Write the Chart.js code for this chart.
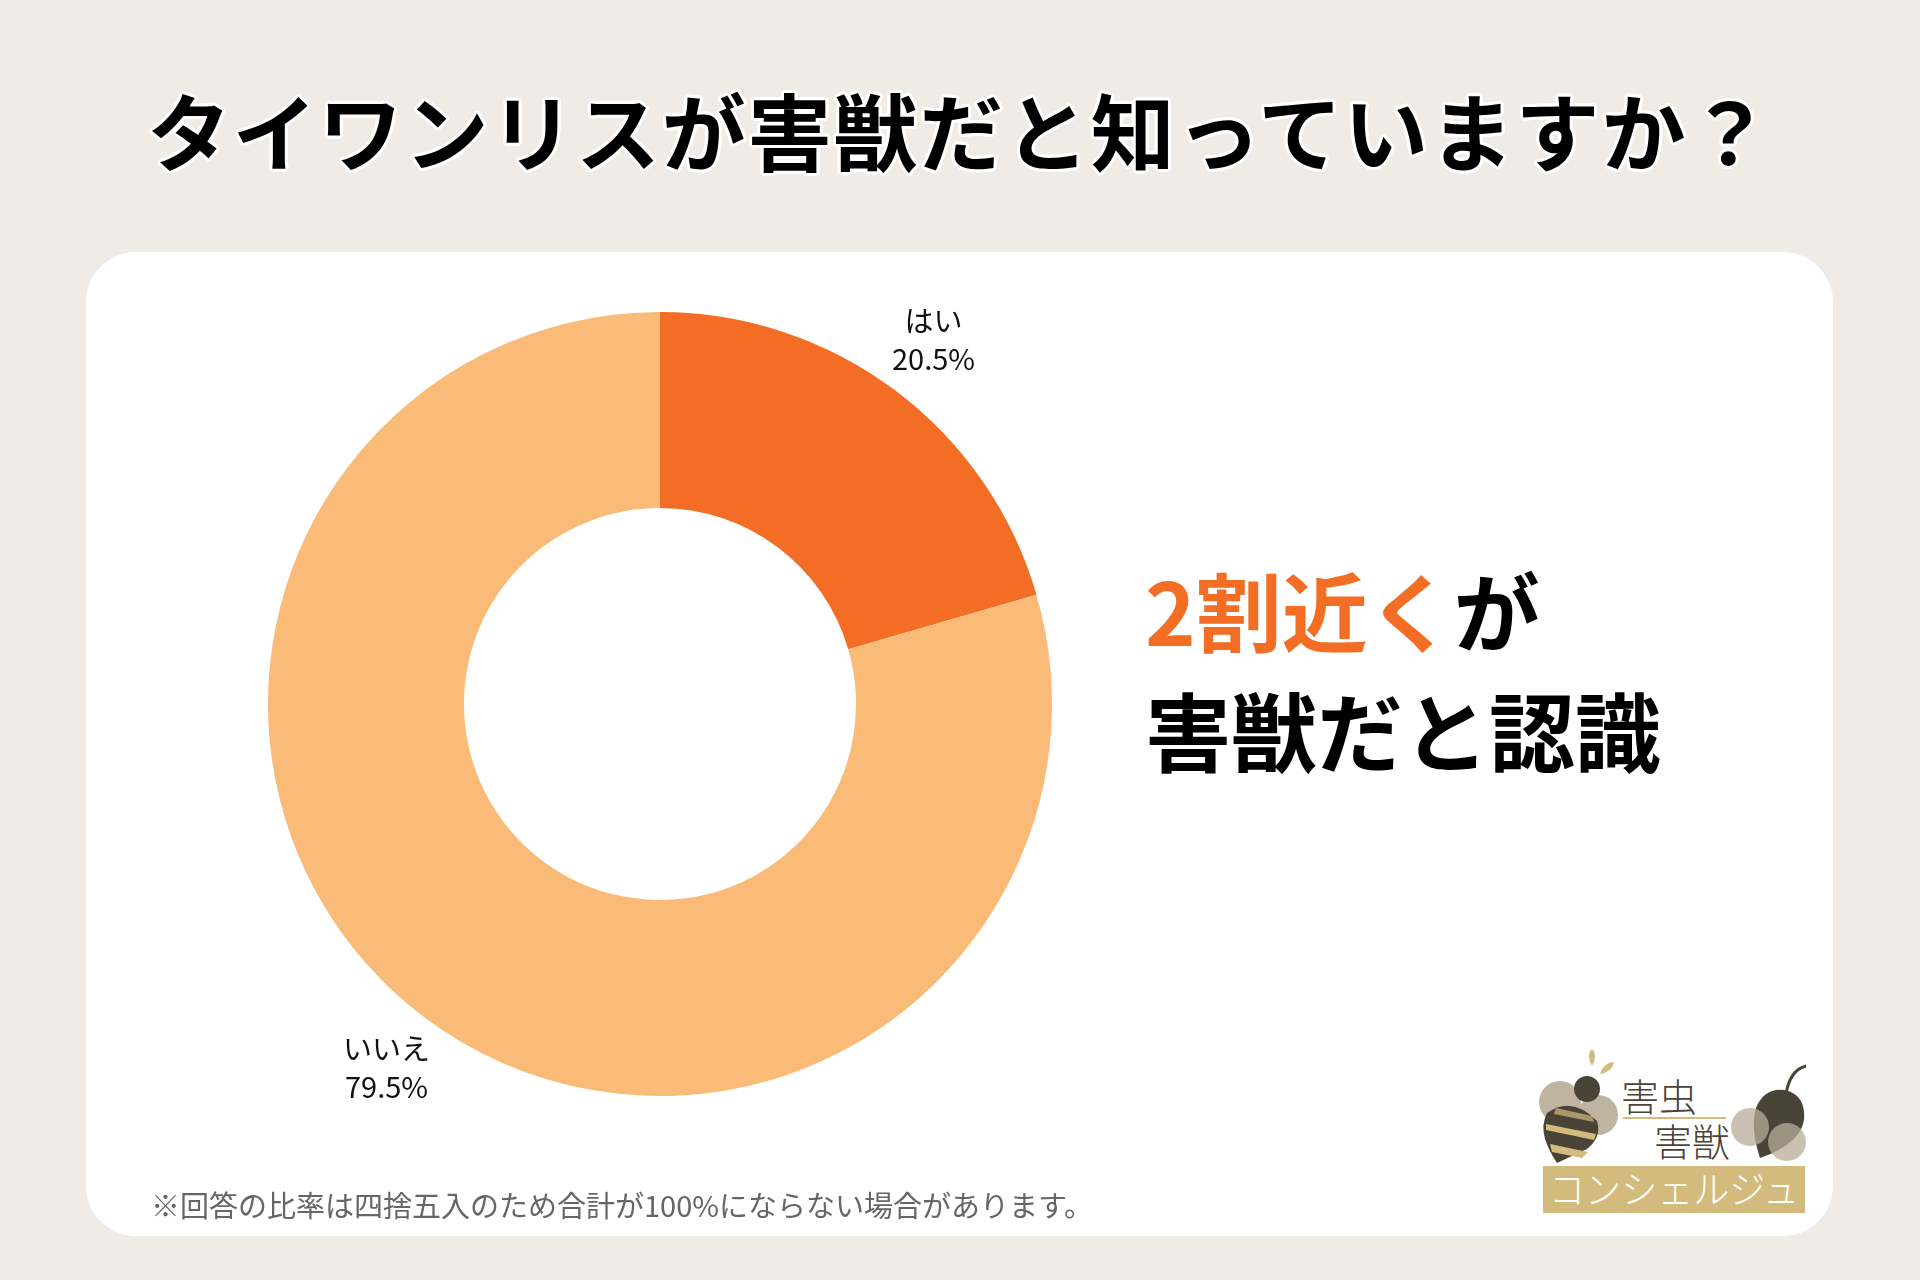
<!DOCTYPE html>
<html lang="ja">
<head>
<meta charset="utf-8">
<script src="https://cdn.jsdelivr.net/npm/chart.js@4.4.1/dist/chart.umd.min.js"></script>
<style>
  html, body { margin: 0; padding: 0; }
  body { width: 1920px; height: 1280px; background: #F0ECE5; position: relative; overflow: hidden;
         font-family: "Noto Sans CJK JP", "Noto Sans", sans-serif; }
  #title { position: absolute; left: 0; width: 1920px; top: 79px; height: 100px; line-height: 100px;
           text-align: center; font-size: 84px; font-weight: 700; color: #000; letter-spacing: 1.8px;
           text-shadow: 0 3px 0 #fff, 0 -3px 0 #fff, 3px 0 0 #fff, -3px 0 0 #fff,
                        2px 2px 0 #fff, -2px 2px 0 #fff, 2px -2px 0 #fff, -2px -2px 0 #fff,
                        3px 1px 0 #fff, -3px 1px 0 #fff, 3px -1px 0 #fff, -3px -1px 0 #fff,
                        1px 3px 0 #fff, -1px 3px 0 #fff, 1px -3px 0 #fff, -1px -3px 0 #fff; }
  #card { position: absolute; left: 86px; top: 252px; width: 1747px; height: 984px; background: #fff; border-radius: 50px; }
  #chartBox { position: absolute; left: 160px; top: 204px; width: 1000px; height: 1000px; }
  .big { position: absolute; left: 1145px; font-size: 86px; font-weight: 700; color: #000; line-height: 110px; white-space: nowrap; }
  #line1 { top: 554px; }
  #line2 { top: 674px; }
  .hl { color: #F36D24; }
  #note { position: absolute; left: 151px; top: 1186px; font-size: 29px; line-height: 36px; color: #666; white-space: nowrap; }
  #logo { position: absolute; left: 1530px; top: 1050px; width: 290px; height: 170px; }
</style>
</head>
<body>
<div id="title">タイワンリスが害獣だと知っていますか？</div>
<div id="card"></div>
<div id="chartBox"><canvas id="c"></canvas></div>
<div class="big" id="line1"><span class="hl">2割近く</span>が</div>
<div class="big" id="line2">害獣だと認識</div>
<div id="note">※回答の比率は四捨五入のため合計が100%にならない場合があります。</div>
<svg id="logo" viewBox="1530 1050 290 170" xmlns="http://www.w3.org/2000/svg">
  <!-- bee -->
  <path d="M1592 1066 q-6 -10 0 -18 q6 8 0 18z" fill="#D3BA7D"/>
  <path d="M1600 1074 q4 -12 14 -12 q-2 10 -14 12z" fill="#D3BA7D"/>
  <circle cx="1560" cy="1102" r="21" fill="#B8AC98" opacity="0.9"/>
  <circle cx="1598" cy="1115" r="20" fill="#B8AC98" opacity="0.9"/>
  <path d="M1547 1113 q25 -18 50 8 q5 16 -10 28 l-30 14 q-8 -12 -12 -24 q-4 -14 2 -26z" fill="#4A4438"/>
  <path d="M1546 1124 l50 10 l-2 6 l-48 -10z" fill="#D3BA7D"/>
  <path d="M1550 1144 l38 8 l-6 6 l-30 -6z" fill="#D3BA7D"/>
  <path d="M1556 1108 l36 8 l2 6 l-40 -8z" fill="#D3BA7D" opacity="0.7"/>
  <circle cx="1587" cy="1089" r="13" fill="#4A4438"/>
  <!-- texts -->
  <text x="1621" y="1111" font-size="38" fill="#4A4438" font-family="Noto Sans CJK JP" font-weight="300">害虫</text>
  <line x1="1623" y1="1118" x2="1726" y2="1118" stroke="#D3BA7D" stroke-width="2"/>
  <text x="1654" y="1156" font-size="38" fill="#4A4438" font-family="Noto Sans CJK JP" font-weight="300">害獣</text>
  <!-- mouse -->
  <path d="M1786 1094 q4 -24 20 -28" stroke="#4A4438" stroke-width="3" fill="none"/>
  <path d="M1760 1158 q-10 -30 -4 -50 q8 -20 28 -18 q22 4 20 30 q-4 24 -44 38z" fill="#4A4438"/>
  <circle cx="1750" cy="1127" r="19" fill="#B8AC98" opacity="0.75"/>
  <circle cx="1787" cy="1142" r="19" fill="#B8AC98" opacity="0.75"/>
  <!-- band -->
  <rect x="1543" y="1166" width="262" height="47" fill="#D3BA7D"/>
  <text x="1549" y="1203" font-size="38" fill="#fff" font-family="Noto Sans CJK JP" font-weight="300" textLength="250" lengthAdjust="spacingAndGlyphs">コンシェルジュ</text>
</svg>
<script>
const categories = ["はい", "いいえ"];
const values = [20.5, 79.5];
const percentLabels = ["20.5%", "79.5%"];
const colors = ["#F36D24", "#FBBB78"];

const outsideLabels = {
  id: "outsideLabels",
  afterDatasetsDraw(chart) {
    const ctx = chart.ctx;
    const meta = chart.getDatasetMeta(0);
    ctx.save();
    ctx.font = '400 29px "Noto Sans CJK JP", "Noto Sans", sans-serif';
    ctx.fillStyle = "#111";
    ctx.textAlign = "center";
    ctx.textBaseline = "middle";
    meta.data.forEach((arc, i) => {
      const p = arc.getProps(["x", "y", "startAngle", "endAngle", "outerRadius"], true);
      const mid = (p.startAngle + p.endAngle) / 2;
      const r = p.outerRadius * 1.162;
      const cx = p.x + Math.cos(mid) * r;
      const cy = p.y + Math.sin(mid) * r;
      ctx.fillText(categories[i], cx, cy - 19);
      ctx.fillText(percentLabels[i], cx, cy + 19);
    });
    ctx.restore();
  }
};

new Chart(document.getElementById("c"), {
  type: "doughnut",
  data: {
    labels: categories,
    datasets: [{ data: values, backgroundColor: colors, borderWidth: 0, hoverOffset: 0 }]
  },
  options: {
    responsive: true,
    maintainAspectRatio: false,
    animation: false,
    cutout: "50%",
    layout: { padding: 108 },
    plugins: { legend: { display: false }, tooltip: { enabled: false } }
  },
  plugins: [outsideLabels]
});
</script>
</body>
</html>
